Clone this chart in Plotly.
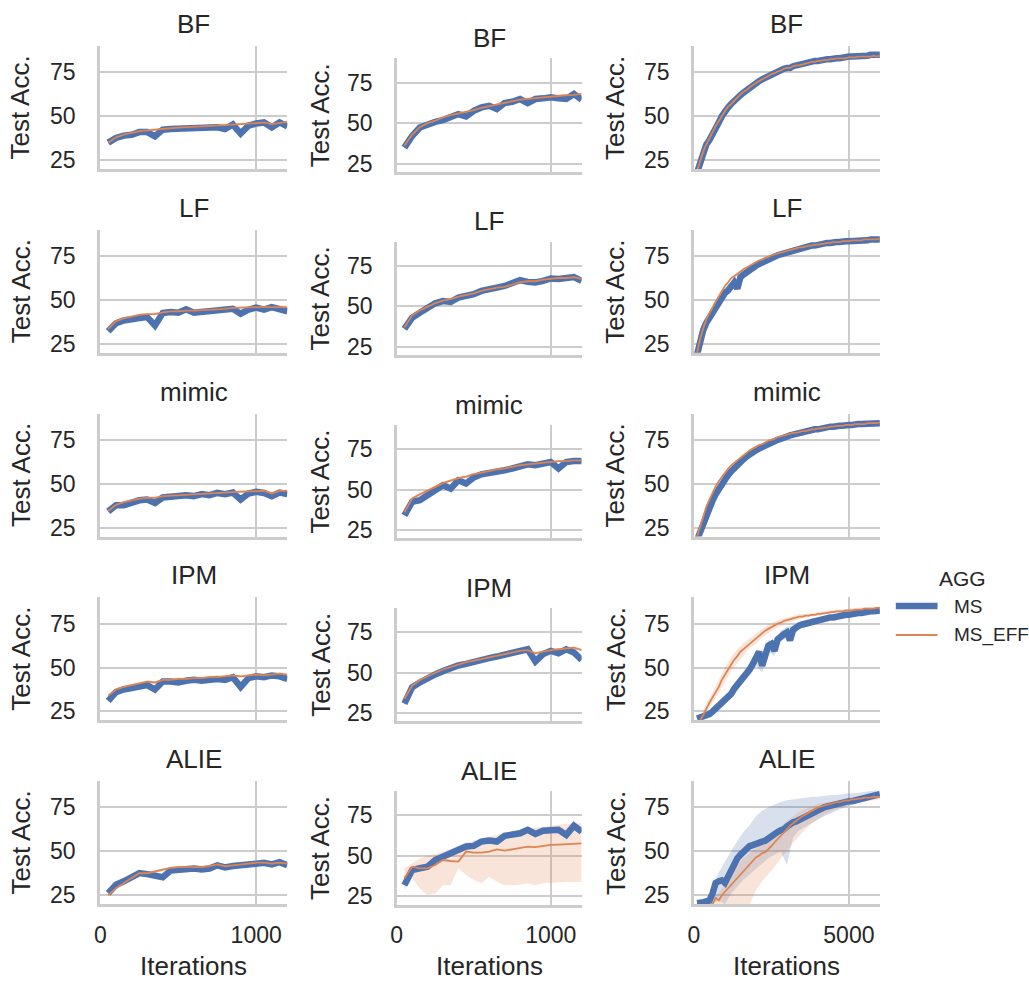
import plotly.graph_objects as go

# ---------------------------------------------------------------- data
ATTACKS = ["BF", "LF", "mimic", "IPM", "ALIE"]
AGG_LABELS = ["MS", "MS_EFF"]

ITER_SHORT = list(range(50, 1201, 50))      # columns 1 and 2
ITER_LONG = list(range(100, 6001, 100))     # column 3
ITER_BAND = list(range(200, 6001, 200))     # column 3 confidence bands

X_TICKS_SHORT = [0, 1000]
X_TICKS_LONG = [0, 5000]
Y_TICKS = [25, 50, 75]

# column 1
BF_1_MS = [35, 37.7, 39, 39.5, 41, 41, 38.6, 42.4, 42.7, 43, 43.3, 43.7, 44, 44, 43.7, 42.7, 45.3, 40.2, 44.7, 45.9, 46.5, 43.7, 46.5, 44.3]
BF_1_EFF = [35, 38, 39.5, 40.5, 41.5, 42, 42.5, 43, 43.2, 43.5, 43.7, 44, 44.2, 44.4, 44.6, 44.8, 45.2, 45.5, 45.8, 46.2, 46.5, 45.5, 46, 46.8]
LF_1_MS = [32.2, 36.8, 38.4, 38.7, 39.7, 40.3, 35.5, 42.6, 43.2, 42.8, 44.7, 42.8, 43.2, 43.6, 44.5, 44.5, 45, 42.2, 44.5, 45.7, 44.5, 46, 45, 43.6]
LF_1_EFF = [33.5, 38, 39.5, 40.5, 41.5, 42, 42, 43, 43.5, 43.5, 44, 44, 44.2, 44.5, 44.5, 45, 45.5, 45.5, 45.8, 46, 46, 46, 46.3, 46]
MIMIC_1_MS = [34.3, 37.8, 37.8, 39.7, 40.6, 41, 39.1, 42.2, 42.8, 42.8, 43.5, 43, 44.1, 43.5, 44.8, 44.1, 45, 41, 44.5, 45.4, 44.8, 43, 45, 44.1]
MIMIC_1_EFF = [34.5, 38, 39.5, 40.5, 41.5, 42, 42, 43, 43.2, 43.5, 43.8, 44, 44.3, 44.5, 44.8, 45, 45.2, 45.5, 45.5, 45.8, 46, 44.5, 46, 46]
IPM_1_MS = [31, 36, 37.5, 38.5, 39.5, 40, 37.5, 42, 42, 41.5, 42.5, 43, 42.5, 43, 43.5, 43, 44.5, 39, 44, 45, 44.5, 45.5, 45, 43.5]
IPM_1_EFF = [34, 37.5, 39, 40, 41, 42, 41.5, 43, 43, 43.5, 43.5, 44, 44, 44.5, 44.5, 45, 45.5, 45, 45.5, 46, 45.5, 46, 46.5, 46]
ALIE_1_MS = [26.1, 31, 32.9, 34.8, 37.6, 37, 35.7, 35.2, 39, 39.6, 40.2, 40.2, 39.6, 40.2, 42, 40.8, 41.6, 42, 42.5, 43.4, 43.4, 42.5, 43.8, 42]
ALIE_1_EFF = [25, 29, 32, 35, 37.5, 37.5, 38.5, 39.5, 40.5, 41, 40.8, 41, 41, 41.5, 42.5, 41.5, 42, 42.5, 43, 43.5, 43.5, 43, 43.5, 43]

# column 2
BF_2_MS = [34.9, 42.1, 47.3, 49.4, 50.8, 51.9, 53.5, 55.6, 54.2, 57.6, 59.7, 60.7, 58.7, 62.4, 63.2, 64.9, 62.4, 64.9, 65.3, 65.9, 65.3, 64.9, 68, 64.5]
BF_2_EFF = [36, 43, 47.5, 50, 51.5, 53.5, 55, 56, 57, 58, 59.5, 60.5, 61.5, 62.5, 63.5, 64.5, 65, 65.5, 66, 66.5, 67, 67.2, 67.5, 68]
LF_2_MS = [36.1, 43, 46.1, 49.2, 51.9, 53.3, 52.7, 55.4, 56.4, 57.5, 59.5, 61, 61.6, 62.6, 64.3, 66.2, 65.1, 64.8, 65.7, 67.2, 66.9, 67.2, 68.1, 65.7]
LF_2_EFF = [37, 44.5, 47.5, 50, 52, 53.5, 54.5, 56, 57, 58, 59.5, 60.5, 61.5, 62, 63.5, 65, 65.5, 65.5, 66.5, 67, 67.5, 67.5, 68, 67]
MIMIC_2_MS = [34.1, 42.4, 43.4, 46.5, 49.6, 52.7, 50.6, 55.7, 53.7, 57.4, 59.4, 60.2, 60.2, 61.9, 63, 64.4, 65.6, 65, 66, 67, 63, 67, 67.6, 67.6]
MIMIC_2_EFF = [36, 44.5, 47, 49.5, 52, 54, 55.5, 57, 58, 59.5, 60.5, 61.5, 62.5, 63, 64, 65, 65.5, 66, 66.5, 67, 67.5, 67.5, 68, 68]
IPM_2_MS = [31, 41, 44, 47, 49, 51, 53, 54.5, 55.5, 57, 58, 59, 60, 61, 62, 63.5, 64.5, 57, 61.5, 63.5, 62, 64.5, 62.5, 58]
IPM_2_EFF = [34, 42, 45.5, 48, 50, 52, 53.5, 55, 56.5, 57.5, 58.5, 59.5, 60.5, 61.5, 62.5, 63.5, 64, 62, 63, 64, 64.5, 65, 65.5, 64]
ALIE_2_MS = [32, 41.3, 42.4, 43.4, 47.5, 49.6, 50.6, 52.7, 55.8, 56.2, 58.9, 59.5, 58.9, 62.4, 63, 64, 66.1, 63.6, 65.5, 66.1, 66.1, 63, 68.6, 65]
ALIE_2_EFF = [36.2, 43.4, 42.4, 42.4, 44.4, 47.5, 46.9, 46.5, 52.7, 52, 52, 52.7, 54.1, 53.3, 54.1, 54.8, 55.8, 55.4, 56.2, 56.8, 57, 57.3, 57.3, 57.8]
ALIE_2_EFF_LO = [28.9, 36.2, 30, 25.8, 26.9, 32, 32, 42.4, 38.2, 35.1, 33.1, 37.2, 34.1, 32, 32, 32.3, 33.1, 32, 33.1, 33.5, 33.7, 33.9, 33.9, 33.9]
ALIE_2_EFF_HI = [42.4, 45.5, 48.6, 50, 51.2, 52.7, 54.1, 55.8, 57.8, 59.5, 60.9, 62, 63, 64, 65, 66.1, 66.5, 67.1, 67.7, 68.6, 69.2, 69.8, 70.2, 70.2]

# column 3
BF_3_MS = [18, 24, 29, 34, 36.5, 40.5, 44, 46.5, 50, 53.5,
           55, 57, 59, 60.5, 62, 63.5, 65, 66.5, 67.5, 69,
           70, 71, 72, 73, 74, 75, 75.5, 76.5, 77, 77.5,
           77.5, 78.5, 79, 79.5, 80, 80.5, 80.5, 81, 81.5, 81.5,
           82, 82, 82.5, 82.5, 83, 83, 83, 83.5, 83.5, 84,
           84, 84, 84.5, 84.5, 84.5, 84.5, 85, 85, 85, 85]
BF_3_EFF = [19, 24.5, 30, 34, 38, 41, 44.5, 47, 50, 53,
            55.5, 57, 59, 61, 62.5, 64, 65, 66.5, 68, 69,
            70, 71, 72, 73, 74, 74.5, 75.5, 76, 77, 77.5,
            77.5, 78.5, 79, 79, 79.5, 80, 80.5, 81, 81, 81.5,
            81.5, 82, 82, 82.5, 82.5, 83, 83, 83, 83, 83.5,
            83.5, 83.5, 84, 84, 84, 84, 84, 84.5, 84, 84.5]
LF_3_MS = [19, 27, 33, 37, 40, 43, 46, 49, 51, 54,
           55.5, 58, 60, 56.5, 63, 64.5, 66, 67.5, 68.5, 69.5,
           70.5, 71.5, 72, 73, 74, 74.5, 75.5, 76, 76.5, 77.5,
           78, 78.5, 79, 79.5, 79.5, 80, 80.5, 81, 81, 81.5,
           81.5, 82, 82.5, 82.5, 83, 83, 83, 83.5, 83.5, 83.5,
           83.5, 84, 84, 84, 84, 84, 84.5, 84.5, 84, 84.5]
LF_3_EFF = [20, 28, 34, 39, 42.5, 46, 49, 52, 55, 58,
            60, 62.5, 63.5, 65, 66, 67.5, 68.5, 69.5, 70.5, 71.5,
            72.5, 73, 74, 74.5, 75.5, 76, 76.5, 77, 77.5, 78,
            78.5, 79, 79.5, 80, 80, 80.5, 81, 81, 81.5, 81.5,
            82, 82, 82.5, 82.5, 83, 83, 83, 83.5, 83.5, 83.5,
            84, 84, 84, 84, 84.5, 84.5, 84.5, 84.5, 84.5, 85]
MIMIC_3_MS = [18, 23, 28, 32.5, 36.5, 40.5, 44, 47, 50, 52.5,
              55, 57, 59, 60.5, 62.5, 64, 65.5, 67, 68, 69,
              70, 71, 71.5, 72.5, 73.5, 74, 75, 75.5, 76.5, 77,
              77.5, 78, 78.5, 79, 79.5, 80, 80, 80.5, 81, 81,
              81.5, 82, 82, 82.5, 82.5, 83, 83, 83, 83.5, 83.5,
              83.5, 84, 84, 84, 84, 84.5, 84.5, 84.5, 84.5, 84.5]
MIMIC_3_EFF = [20, 26, 32, 37, 41, 45, 48.5, 51.5, 54, 56.5,
               58.5, 60.5, 62, 63.5, 65, 66.5, 67.5, 69, 70, 71,
               72, 72.5, 73.5, 74.5, 75, 75.5, 76.5, 77, 77.5, 78,
               78.5, 79, 79, 79.5, 80, 80, 80.5, 81, 81, 81.5,
               81.5, 82, 82, 82.5, 82.5, 83, 83, 83, 83.5, 83.5,
               83.5, 84, 84, 84, 84, 84.5, 84.5, 84.5, 84.5, 85]
IPM_3_MS = [21, 21.5, 22, 23, 23.5, 25, 26.5, 28, 29.5, 31,
            33, 35, 38, 40, 42, 44, 47, 49, 52, 55,
            59, 51, 58, 62.5, 63.5, 59.5, 66, 68, 69, 70,
            65.5, 71.5, 73, 74, 74.5, 75, 75.5, 76, 76.5, 77,
            77.5, 78, 78, 78.5, 78.5, 79, 79.5, 79.5, 80, 80,
            80.5, 80.5, 81, 81, 81.5, 81.5, 82, 82, 82.5, 82.5]
IPM_3_EFF = [18, 20, 23, 27, 30, 33, 36, 39, 43, 46,
             49, 52, 54.5, 56.5, 59, 60.5, 62, 64, 65.5, 66.5,
             68, 69.5, 71, 72, 73, 74, 75, 75.5, 76.5, 77,
             77.5, 78, 78.5, 79, 79, 79.5, 79.5, 80, 80, 80.5,
             80.5, 81, 81, 81.5, 81.5, 82, 82, 82, 82.5, 82.5,
             82.5, 83, 83, 83, 83.5, 83.5, 83.5, 83.5, 84, 84]
ALIE_3_MS = [20.5, 20.5, 21, 21.5, 22, 26, 32, 33, 33.5, 32,
             36, 40, 43, 46, 48, 50, 51.5, 53, 53.5, 54.5,
             55, 55.5, 56, 57.5, 58.5, 59.5, 61, 62, 62.5, 64,
             65.5, 66.5, 67, 68, 68.5, 69.5, 70, 71, 72, 73,
             74, 75, 75.5, 76, 76.5, 77, 77, 77.5, 78, 78.5,
             78.5, 79, 79.5, 80, 80.5, 81, 81.5, 82, 82.5, 82.5]
ALIE_3_EFF = [15, 16, 17, 18, 19, 20, 23.5, 22, 25, 27,
              29, 31, 32.5, 35, 37, 38.5, 40.5, 42.5, 44.5, 46.5,
              47.5, 49, 49.5, 51, 53, 55, 57, 58.5, 60.5, 62.5,
              64.5, 66, 67.5, 69, 70, 71, 72, 73, 74, 75,
              75.5, 76, 76.5, 77, 77.5, 78, 78, 78.5, 79, 79,
              79.5, 79.5, 80, 80, 80.5, 80.5, 80.5, 81, 81, 81]

# column 3 confidence bands (on ITER_BAND)
IPM_3_MS_HW = [1, 1, 1.5, 2, 2, 2.5, 3, 3, 3.5, 4, 4, 3.5, 3, 3, 3, 2.5, 2, 2, 2, 1.5, 1.5, 1.5, 1, 1, 1, 1, 1, 1, 1, 1]
IPM_3_EFF_HW = [1.5, 2.5, 3, 3.5, 4, 4, 4, 3.5, 3, 3, 2.5, 2.5, 2, 2, 1.5, 1.5, 1.5, 1, 1, 1, 1, 1, 1, 1, 1, 1, 1, 1, 1, 1]
ALIE_3_MS_LO = [19, 19.5, 20, 22, 20, 26, 30, 34, 37, 40, 43, 46, 48, 50, 42, 58, 62, 64, 66, 68, 70, 71.5, 73, 74.5, 76, 77, 78, 79, 80, 81]
ALIE_3_MS_HI = [21.5, 23, 30, 38, 44.5, 50, 56, 61, 65, 70, 73, 75, 76.5, 78, 79, 79.5, 80, 80.5, 81, 81, 81.5, 82, 82, 82.5, 83, 83, 83.5, 84, 84.5, 84.5]
ALIE_3_EFF_LO = [10, 10, 12, 14, 16, 18, 19, 19, 20, 28, 33, 37, 41, 46, 50, 55, 59, 62.5, 66, 68.5, 71, 72.5, 74, 75.5, 76.5, 77.5, 78, 78.5, 79, 79.5]
ALIE_3_EFF_HI = [18, 20, 23, 26, 32, 37, 42, 46, 49, 52.5, 55, 58, 61.5, 64, 67.5, 70, 72.5, 74, 75.5, 77, 77.5, 78, 78.5, 79, 79.5, 80, 80.5, 81, 81.5, 82]

# typical spread of the narrow bands
NARROW_HW_MS = 1.0
NARROW_HW_EFF = 0.8

SERIES = {
    (0, 0): (BF_1_MS, BF_1_EFF), (0, 1): (BF_2_MS, BF_2_EFF), (0, 2): (BF_3_MS, BF_3_EFF),
    (1, 0): (LF_1_MS, LF_1_EFF), (1, 1): (LF_2_MS, LF_2_EFF), (1, 2): (LF_3_MS, LF_3_EFF),
    (2, 0): (MIMIC_1_MS, MIMIC_1_EFF), (2, 1): (MIMIC_2_MS, MIMIC_2_EFF), (2, 2): (MIMIC_3_MS, MIMIC_3_EFF),
    (3, 0): (IPM_1_MS, IPM_1_EFF), (3, 1): (IPM_2_MS, IPM_2_EFF), (3, 2): (IPM_3_MS, IPM_3_EFF),
    (4, 0): (ALIE_1_MS, ALIE_1_EFF), (4, 1): (ALIE_2_MS, ALIE_2_EFF), (4, 2): (ALIE_3_MS, ALIE_3_EFF),
}

# explicit bands: (x, lo, hi) keyed by panel and series index (0 = MS, 1 = MS_EFF)
WIDE_BANDS = {
    ((4, 1), 1): (ITER_SHORT, ALIE_2_EFF_LO, ALIE_2_EFF_HI),
    ((4, 2), 0): (ITER_BAND, ALIE_3_MS_LO, ALIE_3_MS_HI),
    ((4, 2), 1): (ITER_BAND, ALIE_3_EFF_LO, ALIE_3_EFF_HI),
}
HALF_WIDTH_BANDS = {
    ((3, 2), 0): (ITER_BAND, IPM_3_MS, IPM_3_MS_HW),
    ((3, 2), 1): (ITER_BAND, IPM_3_EFF, IPM_3_EFF_HW),
}

for (r, c), (a, b) in SERIES.items():
    n = len(ITER_LONG) if c == 2 else len(ITER_SHORT)
    assert len(a) == n and len(b) == n, (r, c, len(a), len(b))

# ---------------------------------------------------------------- style
W, H = 1029, 983
FONT = "Liberation Sans, Arial, Helvetica, sans-serif"
INK = "#262626"
GRID = "#cccccc"
COLORS = ["#4C72B0", "#DD8452"]
FILLS = ["rgba(76,114,176,0.22)", "rgba(221,132,82,0.22)"]
WIDTHS = [6.5, 1.8]

COL_X = [(95, 283), (393, 579), (692, 879)]
YLABEL_X = [15, 316, 613]
YTICK_GAP = [23, 21.5, 22]   # space between y value labels and the left spine


def panel_box(r, c):
    if c == 1:
        top = 58.3 + 183.2 * r
        return top, top + 113.5
    top = 46 + 183.75 * r
    return top, top + 123


def fx(px):
    return px / W


def fy(py):
    return 1 - py / H


fig = go.Figure()
layout = dict(
    width=W, height=H, autosize=False,
    margin=dict(l=0, r=0, t=0, b=0),
    paper_bgcolor="white", plot_bgcolor="white",
    showlegend=False,
    font=dict(family=FONT, color=INK),
)
annotations = []
shapes = []

for r, attack in enumerate(ATTACKS):
    for c in range(3):
        k = r * 3 + c + 1
        xs = "x" if k == 1 else f"x{k}"
        ys = "y" if k == 1 else f"y{k}"
        top, bottom = panel_box(r, c)
        x0, x1 = COL_X[c]
        long_run = c == 2
        iters = ITER_LONG if long_run else ITER_SHORT
        ms, eff = SERIES[(r, c)]

        # confidence bands
        for si, vals in enumerate((ms, eff)):
            key = ((r, c), si)
            if key in WIDE_BANDS:
                bx, lo, hi = WIDE_BANDS[key]
            elif key in HALF_WIDTH_BANDS:
                bx, center, hw = HALF_WIDTH_BANDS[key]
                step = len(center) // len(bx)
                mid = [center[(i + 1) * step - 1] for i in range(len(bx))]
                lo = [m - h for m, h in zip(mid, hw)]
                hi = [m + h for m, h in zip(mid, hw)]
            else:
                hw = NARROW_HW_MS if si == 0 else NARROW_HW_EFF
                bx = iters
                lo = [v - hw for v in vals]
                hi = [v + hw for v in vals]
            fig.add_trace(go.Scatter(
                x=list(bx) + list(bx)[::-1], y=list(lo) + list(hi)[::-1],
                fill="toself", fillcolor=FILLS[si], line=dict(width=0),
                mode="lines", hoverinfo="skip", xaxis=xs, yaxis=ys,
            ))

        # mean curves
        for si, vals in enumerate((ms, eff)):
            fig.add_trace(go.Scatter(
                x=iters, y=vals, mode="lines", name=AGG_LABELS[si],
                line=dict(color=COLORS[si], width=WIDTHS[si]),
                xaxis=xs, yaxis=ys,
            ))

        bottom_row = r == len(ATTACKS) - 1
        layout["xaxis" if k == 1 else f"xaxis{k}"] = dict(
            domain=[fx(x0), fx(x1)], anchor=ys,
            range=[0, 6000 if long_run else 1200],
            tickmode="array", tickvals=X_TICKS_LONG if long_run else X_TICKS_SHORT,
            showticklabels=bottom_row, ticks="",
            tickfont=dict(size=23, family=FONT, color=INK),
            showgrid=True, gridcolor=GRID, gridwidth=2,
            showline=True, linecolor=GRID, linewidth=2.8,
            zeroline=False, ticklabelstandoff=8,
        )
        layout["yaxis" if k == 1 else f"yaxis{k}"] = dict(
            domain=[fy(bottom), fy(top)], anchor=xs,
            range=[20, 90], tickmode="array", tickvals=Y_TICKS,
            ticks="", showticklabels=False,
            showgrid=True, gridcolor=GRID, gridwidth=2,
            showline=True, linecolor=GRID, linewidth=2.8,
            zeroline=False,
        )
        # y value labels, placed on the axis scale
        for v in Y_TICKS:
            annotations.append(dict(
                text=str(v), xref="paper", yref=ys,
                x=fx(x0 - YTICK_GAP[c]), y=v,
                xanchor="right", yanchor="middle", showarrow=False,
                font=dict(size=23, family=FONT, color=INK),
            ))

        # panel title
        annotations.append(dict(
            text=attack, xref="paper", yref="paper",
            x=fx((x0 + x1) / 2), y=fy(top - (20 if c == 1 else 22)),
            xanchor="center", yanchor="middle", showarrow=False,
            font=dict(size=26, family=FONT, color=INK),
        ))
        # y axis label
        annotations.append(dict(
            text="Test Acc.", xref="paper", yref="paper",
            x=fx(YLABEL_X[c]), y=fy((top + bottom) / 2),
            xanchor="center", yanchor="middle", textangle=-90, showarrow=False,
            font=dict(size=26, family=FONT, color=INK),
        ))
        if bottom_row:
            annotations.append(dict(
                text="Iterations", xref="paper", yref="paper",
                x=fx((x0 + x1) / 2), y=fy(966),
                xanchor="center", yanchor="middle", showarrow=False,
                font=dict(size=26, family=FONT, color=INK),
            ))

# legend
annotations.append(dict(
    text="AGG", xref="paper", yref="paper", x=fx(962), y=fy(578),
    xanchor="center", yanchor="middle", showarrow=False,
    font=dict(size=21, family=FONT, color=INK),
))
for si, (label, ly) in enumerate(zip(AGG_LABELS, (606, 635))):
    shapes.append(dict(
        type="line", xref="paper", yref="paper",
        x0=fx(895), x1=fx(937), y0=fy(ly), y1=fy(ly),
        line=dict(color=COLORS[si], width=WIDTHS[si]),
    ))
    annotations.append(dict(
        text=label, xref="paper", yref="paper", x=fx(952), y=fy(ly),
        xanchor="left", yanchor="middle", showarrow=False,
        font=dict(size=19, family=FONT, color=INK),
    ))

layout["annotations"] = annotations
layout["shapes"] = shapes
fig.update_layout(**layout)
fig.write_html("out.html")
